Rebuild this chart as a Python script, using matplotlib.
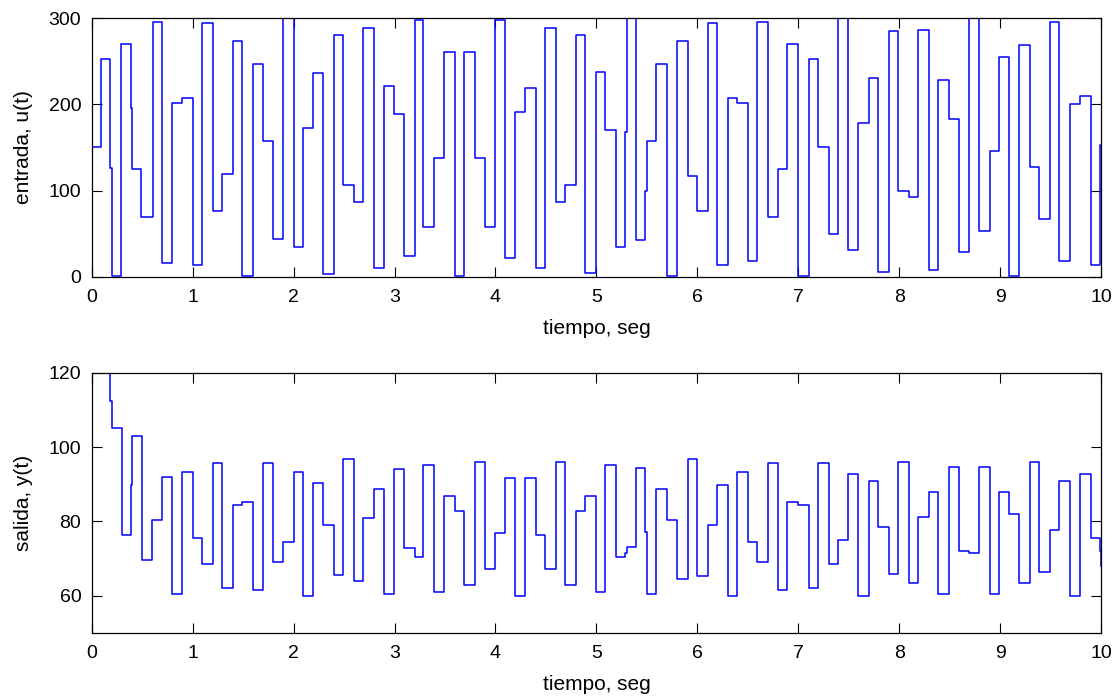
import matplotlib
matplotlib.use('Agg')
from matplotlib import pyplot as plt
import numpy as np

plt.rcParams['font.family'] = ['Liberation Sans', 'DejaVu Sans']
plt.rcParams['font.size'] = 14

# entrada u(t): instantes de cambio y niveles
u_t = [0, 0.092, 0.184, 0.198, 0.293, 0.385, 0.399, 0.487, 0.603, 0.695,
       0.80, 0.893, 1.001, 1.094, 1.199, 1.291, 1.40, 1.492, 1.597, 1.693,
       1.80, 1.897, 2.0, 2.095, 2.197, 2.29, 2.398, 2.486, 2.595, 2.69,
       2.80, 2.891, 2.997, 3.092, 3.198, 3.287, 3.395, 3.488, 3.596, 3.689,
       3.797, 3.893, 3.998, 4.09, 4.196, 4.288, 4.397, 4.489, 4.595, 4.687,
       4.795, 4.888, 4.994, 5.086, 5.195, 5.287, 5.30, 5.392, 5.484, 5.497,
       5.593, 5.702, 5.794, 5.906, 5.998, 6.104, 6.196, 6.301, 6.393, 6.499,
       6.591, 6.70, 6.795, 6.891, 6.993, 7.102, 7.20, 7.303, 7.393, 7.497,
       7.589, 7.697, 7.79, 7.895, 7.987, 8.099, 8.191, 8.297, 8.389, 8.494,
       8.59, 8.695, 8.791, 8.896, 8.989, 9.09, 9.19, 9.298, 9.39, 9.493,
       9.588, 9.694, 9.789, 9.898, 9.99]
u_vals = [151, 253, 126, 1, 270, 196, 125, 69, 296, 16,
          202, 208, 14, 294, 76, 119, 274, 1, 247, 157,
          44, 300, 35, 173, 236, 3, 281, 106, 87, 289,
          10, 221, 189, 24, 298, 58, 138, 261, 1, 261,
          138, 58, 298, 22, 191, 219, 10, 289, 87, 106,
          281, 4, 238, 170, 35, 168, 300, 43, 100, 157,
          247, 1, 274, 117, 76, 294, 14, 208, 202, 18,
          296, 69, 125, 270, 1, 253, 151, 50, 300, 31,
          178, 231, 5, 285, 99, 93, 287, 8, 228, 183,
          29, 300, 53, 146, 255, 1, 269, 127, 67, 296,
          18, 200, 210, 14, 153]

# salida y(t)
y_t = [0, 0.181, 0.204, 0.296, 0.385, 0.402, 0.494, 0.599, 0.695, 0.80,
       0.896, 1.001, 1.094, 1.199, 1.291, 1.40, 1.492, 1.597, 1.693, 1.80,
       1.897, 2.0, 2.095, 2.197, 2.29, 2.398, 2.486, 2.595, 2.69, 2.80,
       2.891, 2.997, 3.092, 3.198, 3.287, 3.395, 3.488, 3.596, 3.689, 3.797,
       3.893, 3.998, 4.09, 4.196, 4.288, 4.397, 4.489, 4.595, 4.687, 4.795,
       4.888, 4.994, 5.086, 5.195, 5.287, 5.30, 5.392, 5.484, 5.497, 5.593,
       5.702, 5.794, 5.906, 5.998, 6.104, 6.196, 6.301, 6.393, 6.499, 6.591,
       6.70, 6.795, 6.891, 6.993, 7.102, 7.20, 7.303, 7.393, 7.497, 7.589,
       7.697, 7.79, 7.895, 7.987, 8.099, 8.191, 8.297, 8.389, 8.494, 8.59,
       8.695, 8.791, 8.896, 8.989, 9.09, 9.19, 9.298, 9.39, 9.493, 9.588,
       9.694, 9.789, 9.898, 9.99, 10.0]
y_vals = [125, 112.4, 105.2, 76.4, 89.9, 103.1, 69.5, 80.3, 91.9, 60.5,
          93.3, 75.4, 68.4, 95.8, 62.0, 84.4, 85.3, 61.6, 95.8, 69.0,
          74.5, 93.3, 60.0, 90.3, 78.9, 65.6, 96.8, 64.0, 80.8, 88.8,
          60.5, 94.2, 72.8, 70.5, 95.2, 61.0, 86.9, 82.8, 62.9, 96.1,
          67.1, 76.9, 91.8, 60.0, 91.8, 76.4, 67.1, 96.1, 62.9, 82.8,
          86.9, 60.9, 95.2, 70.4, 71.6, 73.0, 94.3, 77.2, 60.5, 88.8,
          80.3, 64.5, 96.8, 65.4, 78.9, 89.8, 60.0, 93.3, 74.5, 69.0,
          95.8, 61.6, 85.3, 84.4, 62.0, 95.8, 68.4, 74.9, 92.8, 60.0,
          90.8, 78.4, 65.9, 96.1, 63.4, 81.3, 87.8, 60.5, 94.7, 71.9,
          71.4, 94.7, 60.5, 87.8, 82.0, 63.4, 96.1, 66.4, 77.8, 90.8,
          60.0, 92.8, 75.4, 71.9, 68.0]

fig = plt.figure(figsize=(11.16, 6.96), dpi=100)
ax1 = fig.add_axes([0.0822, 0.6024, 0.9044, 0.3713])
ax2 = fig.add_axes([0.0822, 0.0910, 0.9044, 0.3731])


def style(ax):
    ax.tick_params(direction='in', length=7, width=0.8, top=True, right=True,
                   labelsize=14, pad=7.5)
    ax.tick_params(axis='x', pad=9)
    for s in ax.spines.values():
        s.set_linewidth(0.9)
    ax.set_xlim(0, 10)
    ax.set_xticks(np.arange(0, 11, 1))
    ax.set_xlabel('tiempo, seg', fontsize=15, labelpad=9)


ax1.step(u_t + [10], u_vals + [u_vals[-1]], where='post', color='#0000ff', lw=1.1)
ax1.set_ylim(0, 300)
ax1.set_yticks([0, 100, 200, 300])
ax1.set_ylabel('entrada, u(t)', fontsize=15, labelpad=11)
style(ax1)

ax2.step(y_t, y_vals, where='post', color='#0000ff', lw=1.1)
ax2.set_ylim(50, 120)
ax2.set_yticks([60, 80, 100, 120])
ax2.set_ylabel('salida, y(t)', fontsize=15, labelpad=11)
style(ax2)

fig.savefig('out.png', dpi=100)
